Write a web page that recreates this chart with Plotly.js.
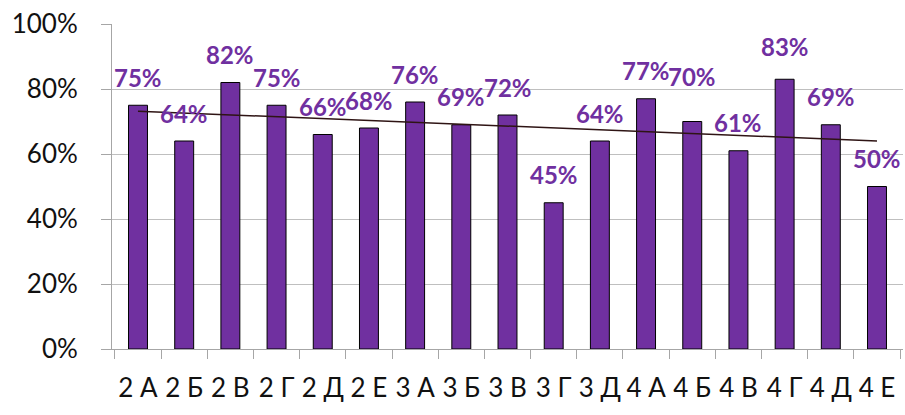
<!DOCTYPE html>
<html>
<head>
<meta charset="utf-8">
<script src="https://cdn.plot.ly/plotly-3.0.1.min.js"></script>
<style>
html,body{margin:0;padding:0;background:#fff;}
#chart{width:905px;height:415px;}
</style>
</head>
<body>
<div id="chart"></div>
<script>
// Data
const categories = ["2 А","2 Б","2 В","2 Г","2 Д","2 Е","3 А","3 Б","3 В","3 Г","3 Д","4 А","4 Б","4 В","4 Г","4 Д","4 Е"];
const values = [75,64,82,75,66,68,76,69,72,45,64,77,70,61,83,69,50];
const yTickValues = [0,20,40,60,80,100];

// Linear trendline (least squares) from the data
const n = values.length;
const xs = values.map((_, i) => i + 1);
const mx = xs.reduce((a,b)=>a+b,0)/n;
const my = values.reduce((a,b)=>a+b,0)/n;
let sxy = 0, sxx = 0;
for (let i = 0; i < n; i++) { sxy += (xs[i]-mx)*(values[i]-my); sxx += (xs[i]-mx)**2; }
const slope = sxy/sxx;
const intercept = my - slope*mx;
const trendY = xs.map(x => intercept + slope*x);

const purple = '#7030A0';
const FONT = 'Lato, "Open Sans", sans-serif';

const bars = {
  type: 'bar',
  x: categories,
  y: values,
  marker: {color: purple, line: {color: '#000000', width: 1}},
  hoverinfo: 'skip',
  showlegend: false
};
const trend = {
  type: 'scatter',
  mode: 'lines',
  x: categories,
  y: trendY,
  line: {color: '#2e1414', width: 1.5},
  hoverinfo: 'skip',
  showlegend: false
};

// extra lift for labels that were moved to avoid overlaps (style only)
const extraLift = {12: 17, 14: 5};
const annotations = categories.map((c, i) => ({
  x: c, y: values[i], xref: 'x', yref: 'y',
  text: values[i] + '%',
  showarrow: false,
  yshift: 28 + (extraLift[i] || 0),
  font: {family: FONT, size: 24, color: purple, weight: 'bold'}
}));

const layout = {
  width: 905, height: 415,
  margin: {l: 112, r: 2, t: 24, b: 66},
  paper_bgcolor: '#ffffff',
  plot_bgcolor: '#ffffff',
  bargap: 0.59,
  xaxis: {
    type: 'category',
    showline: true, linecolor: '#a6a6a6', linewidth: 1,
    ticks: 'outside', tickson: 'boundaries', ticklen: 9, tickcolor: '#a6a6a6',
    tickfont: {family: FONT, size: 26, color: '#111111'},
    tickangle: 0,
    ticklabelstandoff: 16,
    showgrid: false, zeroline: false,
    fixedrange: true
  },
  yaxis: {
    range: [0, 100],
    tickvals: yTickValues,
    ticktext: yTickValues.map(v => v + '%'),
    showline: true, linecolor: '#a6a6a6', linewidth: 1,
    ticks: 'outside', ticklen: 10, tickcolor: '#a6a6a6',
    tickfont: {family: FONT, size: 26, color: '#111111'},
    ticklabelstandoff: 18,
    showgrid: true, gridcolor: '#bfbfbf', gridwidth: 1,
    zeroline: false,
    fixedrange: true
  },
  annotations: annotations
};

Plotly.newPlot('chart', [bars, trend], layout, {displayModeBar: false, staticPlot: true});
</script>
</body>
</html>
